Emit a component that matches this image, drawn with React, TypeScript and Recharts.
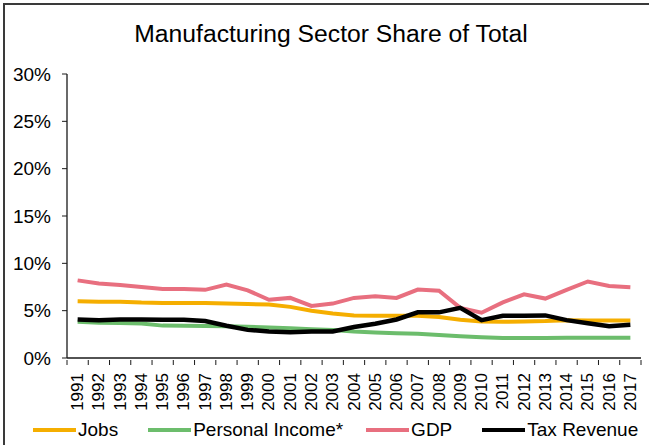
import { LineChart, Line, XAxis, YAxis } from "recharts";

const years = [
  "1991", "1992", "1993", "1994", "1995", "1996", "1997", "1998", "1999",
  "2000", "2001", "2002", "2003", "2004", "2005", "2006", "2007", "2008",
  "2009", "2010", "2011", "2012", "2013", "2014", "2015", "2016", "2017",
];

const jobs = [
  6.0, 5.95, 5.95, 5.85, 5.8, 5.8, 5.8, 5.75, 5.7, 5.65, 5.4, 5.0, 4.7, 4.5,
  4.47, 4.47, 4.45, 4.32, 4.05, 3.85, 3.82, 3.85, 3.9, 4.0, 3.97, 3.97, 3.97,
];

const personalIncome = [
  3.83, 3.72, 3.7, 3.65, 3.42, 3.4, 3.38, 3.35, 3.3, 3.22, 3.15, 3.05, 2.97,
  2.8, 2.7, 2.62, 2.55, 2.42, 2.3, 2.2, 2.12, 2.12, 2.12, 2.15, 2.15, 2.15, 2.15,
];

const gdp = [
  8.2, 7.87, 7.7, 7.5, 7.3, 7.3, 7.2, 7.75, 7.15, 6.15, 6.35, 5.5, 5.75, 6.35,
  6.52, 6.35, 7.23, 7.1, 5.3, 4.78, 5.88, 6.72, 6.28, 7.2, 8.08, 7.6, 7.48,
];

const taxRevenue = [
  4.07, 4.0, 4.07, 4.07, 4.05, 4.05, 3.9, 3.4, 2.97, 2.8, 2.72, 2.8, 2.8, 3.28,
  3.62, 4.07, 4.82, 4.82, 5.3, 4.0, 4.45, 4.47, 4.5, 4.0, 3.68, 3.36, 3.5,
];

const yTicks = [0, 5, 10, 15, 20, 25, 30];

const series = [
  { key: "jobs", name: "Jobs", color: "#F5AE00", width: 4 },
  { key: "income", name: "Personal Income*", color: "#6CBD6C", width: 4 },
  { key: "gdp", name: "GDP", color: "#E86F7F", width: 4 },
  { key: "tax", name: "Tax Revenue", color: "#000000", width: 4.5 },
];

// gap after each legend entry, Excel spaces them a bit unevenly
const legendGaps = [30, 23, 30, 0];

const data = years.map((year, i) => ({
  year,
  jobs: jobs[i],
  income: personalIncome[i],
  gdp: gdp[i],
  tax: taxRevenue[i],
}));

const FONT = "'Liberation Sans', Arial, sans-serif";
const PLOT_LEFT = 67;
const PLOT_RIGHT = 641;
const BAND = (PLOT_RIGHT - PLOT_LEFT) / years.length;

const YearTick = (props: any) => {
  const { x, y, payload, index } = props;
  const top = y - 5;
  return (
    <g>
      <line x1={x - BAND / 2} y1={top} x2={x - BAND / 2} y2={top + 5} stroke="#1a1a1a" />
      {index === years.length - 1 && (
        <line x1={x + BAND / 2} y1={top} x2={x + BAND / 2} y2={top + 5} stroke="#1a1a1a" />
      )}
      <text
        x={x}
        y={top + 13}
        transform={`rotate(-90 ${x} ${top + 13})`}
        textAnchor="end"
        dominantBaseline="central"
        fontSize={17}
        fontFamily={FONT}
        fill="#000"
      >
        {payload.value}
      </text>
    </g>
  );
};

export default function App() {
  return (
    <div
      style={{
        position: "absolute",
        left: 0,
        top: 0,
        width: 649,
        height: 445,
        overflow: "hidden",
        background: "#fff",
        fontFamily: FONT,
      }}
    >
      <div
        style={{
          position: "absolute",
          left: 3,
          top: 3,
          width: 700,
          height: 500,
          borderTop: "2px solid #3a3a3a",
          borderLeft: "2px solid #3a3a3a",
        }}
      />
      <div
        style={{
          position: "absolute",
          left: 0,
          top: 20,
          width: 662,
          textAlign: "center",
          fontSize: 24.7,
          color: "#000",
          whiteSpace: "nowrap",
        }}
      >
        Manufacturing Sector Share of Total
      </div>
      <div style={{ position: "absolute", left: 0, top: 0 }}>
        <LineChart
          width={649}
          height={445}
          data={data}
          margin={{ top: 74, right: 649 - PLOT_RIGHT, bottom: 27, left: 0 }}
        >
          <XAxis
            dataKey="year"
            interval={0}
            height={60}
            padding={{ left: BAND / 2, right: BAND / 2 }}
            tickLine={false}
            axisLine={{ stroke: "#1a1a1a", strokeWidth: 1.3 }}
            tick={<YearTick />}
            tickSize={5}
          />
          <YAxis
            width={PLOT_LEFT}
            domain={[0, 30]}
            ticks={yTicks}
            interval={0}
            tickFormatter={(v: number) => `${v}%`}
            axisLine={{ stroke: "#1a1a1a", strokeWidth: 1.3 }}
            tickLine={{ stroke: "#1a1a1a" }}
            tickSize={5}
            tickMargin={11}
            tick={{ fontSize: 19, fill: "#000", fontFamily: FONT }}
          />
          {series.map((s) => (
            <Line
              key={s.key}
              type="linear"
              dataKey={s.key}
              name={s.name}
              stroke={s.color}
              strokeWidth={s.width}
              dot={false}
              activeDot={false}
              isAnimationActive={false}
            />
          ))}
        </LineChart>
      </div>
      <div
        style={{
          position: "absolute",
          left: 33,
          top: 419,
          display: "flex",
          alignItems: "center",
          fontSize: 19,
          color: "#000",
          whiteSpace: "nowrap",
        }}
      >
        {series.map((s, i) => (
          <div
            key={s.key}
            style={{
              display: "flex",
              alignItems: "center",
              marginRight: legendGaps[i],
            }}
          >
            <span
              style={{
                display: "inline-block",
                width: 43,
                height: 4,
                background: s.color,
                marginRight: 2,
              }}
            />
            <span>{s.name}</span>
          </div>
        ))}
      </div>
    </div>
  );
}
